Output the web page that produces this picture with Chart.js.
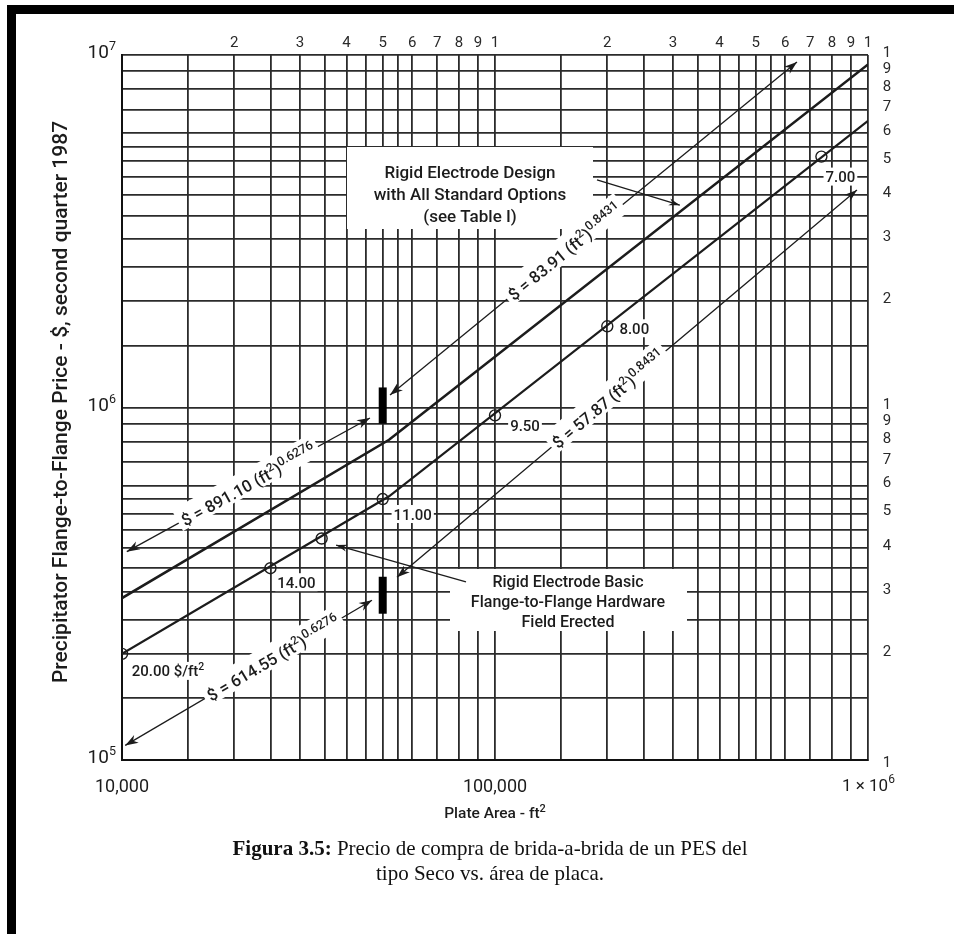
<!DOCTYPE html>
<html lang="en">
<head>
<meta charset="utf-8">
<title>Precipitator flange-to-flange price vs plate area</title>
<script src="https://cdn.jsdelivr.net/npm/chart.js@4.4.1/dist/chart.umd.min.js"></script>
<style>
  html, body { margin: 0; padding: 0; background: #fff; }
  .page { position: relative; width: 954px; height: 934px; overflow: hidden; background: #fff; }
  .frame-top { position: absolute; left: 7px; top: 5px; width: 947px; height: 9px; background: #000; }
  .frame-left { position: absolute; left: 7px; top: 5px; width: 9px; height: 929px; background: #000; }
  #chart { position: absolute; left: 0; top: 0; }
  .caption {
    position: absolute; left: 0; top: 836px; width: 980px;
    text-align: center; font-family: 'Liberation Serif', serif;
    font-size: 21px; line-height: 25px; color: #111;
  }
</style>
</head>
<body>
<div class="page">
  <canvas id="chart" width="954" height="934"></canvas>
  <div class="frame-top"></div>
  <div class="frame-left"></div>
  <div class="caption"><b>Figura 3.5:</b> Precio de compra de brida-a-brida de un PES del<br>tipo Seco vs. área de placa.</div>
</div>
<script>
// grid: the same mantissas are ruled in every decade of both axes
const gridSteps = [1, 1.5, 2, 2.5, 3, 3.5, 4, 4.5, 5, 5.5, 6, 7, 8, 9];
const areaDecades = [1e4, 1e5];
const priceDecades = [1e5, 1e6];
const areaRange = [1e4, 1e6];
const priceRange = [1e5, 1e7];
const edgeDigits = [2, 3, 4, 5, 6, 7, 8, 9];

// printed axis values
const areaTicks = [1e4, 1e5, 1e6];
const areaTickText = ['10,000', '100,000', '1 × 10'];
const priceTicks = [1e5, 1e6, 1e7];
const priceTickExp = ['5', '6', '7'];

// Rigid electrode, all standard options (ft2 -> $)
const optionsArea = [10000, 52000, 1000000];
const optionsPrice = [288000, 810000, 9400000];

// Rigid electrode, basic flange-to-flange hardware
const basicArea = [10000, 52000, 1000000];
const basicPrice = [200000, 560000, 6500000];

// marked points on the basic curve, with their unit price
const markArea = [10000, 25000, 34300, 50000, 100000, 200000, 750000];
const markPrice = [200000, 350000, 425000, 550000, 950000, 1700000, 5150000];
const markRate = ['20.00 $/ft', '14.00', '', '11.00', '9.50', '8.00', '7.00'];

// equation leader lines
const eq891Area = [10300, 46200];
const eq891Price = [390000, 934000];
const eq8391Area = [52300, 645000];
const eq8391Price = [1085000, 9550000];
const eq614Area = [10200, 46800];
const eq614Price = [110000, 284000];
const eq5787Area = [54600, 934000];
const eq5787Price = [330000, 4140000];

// heavy break bars at 50,000 ft2
const breakArea = [50000, 50000];
const breakUpperPrice = [900000, 1140000];
const breakLowerPrice = [260000, 331000];

// pointers from the two notes to the curves
const optionsPointerArea = [187700, 313000];
const optionsPointerPrice = [4420000, 3750000];
const basicPointerArea = [83600, 37500];
const basicPointerPrice = [320000, 407000];

const INK = '#1c1c1c';
const SANS = 'Roboto, "Liberation Sans", sans-serif';

const pts = (xs, ys) => xs.map((x, i) => ({ x, y: ys[i] }));

const gridValues = (decades, last) => {
  const vals = [];
  decades.forEach(d => gridSteps.forEach(s => vals.push(d * s)));
  vals.push(last);
  return vals;
};

const thinLine = (data) => ({
  data, showLine: true, borderColor: INK, borderWidth: 1.3, pointRadius: 0
});

const bar = (data) => ({
  data, showLine: true, borderColor: '#000', borderWidth: 8,
  borderCapStyle: 'butt', pointRadius: 0
});

// dataset order is used by the drawing plugin below
const datasets = [
  { data: pts(optionsArea, optionsPrice), showLine: true, borderColor: INK, borderWidth: 2.6, pointRadius: 0 },
  { data: pts(basicArea, basicPrice), showLine: true, borderColor: INK, borderWidth: 2.2, pointRadius: 0 },
  thinLine(pts(eq891Area, eq891Price)),
  thinLine(pts(eq8391Area, eq8391Price)),
  thinLine(pts(eq614Area, eq614Price)),
  thinLine(pts(eq5787Area, eq5787Price)),
  thinLine(pts(optionsPointerArea, optionsPointerPrice)),
  thinLine(pts(basicPointerArea, basicPointerPrice)),
  bar(pts(breakArea, breakUpperPrice)),
  bar(pts(breakArea, breakLowerPrice)),
  {
    data: pts(markArea, markPrice), showLine: false, pointStyle: 'circle',
    pointRadius: 5.5, borderWidth: 1.4, borderColor: INK, backgroundColor: 'rgba(0,0,0,0)'
  }
];

// equation labels: dataset index, position along the leader, coefficient, exponent
const eqLabels = [
  [2, 0.50, '891.10', '0.6276'],
  [3, 0.43, '83.91', '0.8431'],
  [4, 0.60, '614.55', '0.6276'],
  [5, 0.46, '57.87', '0.8431']
];

// label offsets (px) from each marked point
const markOffsets = [[46, 17], [26, 14], [0, 0], [30, 15], [30, 10], [27, 2], [19, 20]];

// text blocks: lines, centre x, first baseline, line step, box
const notes = [
  { lines: ['Rigid Electrode Design', 'with All Standard Options', '(see Table I)'],
    cx: 470, y: 178, step: 22, size: 17, box: [347, 147, 593, 229] },
  { lines: ['Rigid Electrode Basic', 'Flange-to-Flange Hardware', 'Field Erected'],
    cx: 568, y: 587, step: 20, size: 16, box: [450, 569, 687, 631] }
];

const pos = (chart, i, j) => {
  const el = chart.getDatasetMeta(i).data[j];
  return { x: el.x, y: el.y };
};

function arrowHead(ctx, from, to, len, half) {
  const a = Math.atan2(to.y - from.y, to.x - from.x);
  ctx.save();
  ctx.translate(to.x, to.y);
  ctx.rotate(a);
  ctx.beginPath();
  ctx.moveTo(0, 0);
  ctx.lineTo(-len, -half);
  ctx.lineTo(-len * 0.7, 0);
  ctx.lineTo(-len, half);
  ctx.closePath();
  ctx.fill();
  ctx.restore();
}

// parts: [text, size, rise]
function richWidth(ctx, parts, weight) {
  let w = 0;
  parts.forEach(p => {
    ctx.font = `${weight} ${p[1]}px ${SANS}`;
    w += ctx.measureText(p[0]).width;
  });
  return w;
}

function drawRich(ctx, parts, x, y, weight) {
  ctx.textAlign = 'left';
  ctx.textBaseline = 'alphabetic';
  let cx = x;
  parts.forEach(p => {
    ctx.font = `${weight} ${p[1]}px ${SANS}`;
    ctx.fillText(p[0], cx, y - (p[2] || 0));
    cx += ctx.measureText(p[0]).width;
  });
  return cx - x;
}

const chartDecor = {
  id: 'chartDecor',
  beforeDatasetsDraw(chart) {
    const ctx = chart.ctx;
    ctx.save();
    ctx.fillStyle = '#fff';
    notes.forEach(n => {
      const [x0, y0, x1, y1] = n.box;
      ctx.fillRect(x0, y0, x1 - x0, y1 - y0);
    });
    ctx.restore();
  },
  afterDatasetsDraw(chart) {
    const ctx = chart.ctx;
    ctx.save();
    ctx.fillStyle = INK;

    // arrowheads on both ends of each equation leader
    [2, 3, 4, 5].forEach(i => {
      const a = pos(chart, i, 0), b = pos(chart, i, 1);
      arrowHead(ctx, b, a, 13, 4.5);
      arrowHead(ctx, a, b, 13, 4.5);
    });
    // note pointers
    [6, 7].forEach(i => {
      arrowHead(ctx, pos(chart, i, 0), pos(chart, i, 1), 11, 3.5);
    });

    // equation text, set along each leader on a white strip
    eqLabels.forEach(([i, t, coef, exp]) => {
      const a = pos(chart, i, 0), b = pos(chart, i, 1);
      const cx = a.x + (b.x - a.x) * t, cy = a.y + (b.y - a.y) * t;
      const parts = [['$ = ' + coef + ' (ft', 16.5], ['2', 11.5, 7], [')', 16.5], [exp, 12.5, 7]];
      const w = richWidth(ctx, parts, 500);
      ctx.save();
      ctx.translate(cx, cy);
      ctx.rotate(Math.atan2(b.y - a.y, b.x - a.x));
      ctx.fillStyle = '#fff';
      ctx.fillRect(-w / 2 - 4, -15, w + 8, 24);
      ctx.fillStyle = INK;
      drawRich(ctx, parts, -w / 2, 6, 500);
      ctx.restore();
    });

    // unit price labels beside the marked points
    markRate.forEach((txt, j) => {
      if (!txt) return;
      const p = pos(chart, 10, j);
      const parts = j === 0 ? [[txt, 15], ['2', 10.5, 6]] : [[txt, 15]];
      const w = richWidth(ctx, parts, 500);
      const x = p.x + markOffsets[j][0] - w / 2, y = p.y + markOffsets[j][1];
      ctx.fillStyle = '#fff';
      ctx.fillRect(x - 2, y - 9, w + 4, 18);
      ctx.fillStyle = INK;
      drawRich(ctx, parts, x, y + 5.5, 500);
    });

    // note text
    notes.forEach(n => {
      ctx.font = `500 ${n.size}px ${SANS}`;
      ctx.textAlign = 'center';
      ctx.textBaseline = 'alphabetic';
      n.lines.forEach((ln, k) => ctx.fillText(ln, n.cx, n.y + k * n.step));
    });
    ctx.restore();
  },
  afterDraw(chart) {
    const ctx = chart.ctx;
    const xs = chart.scales.x, ys = chart.scales.y;
    const area = chart.chartArea;
    ctx.save();
    ctx.fillStyle = '#2a2a2a';
    ctx.textBaseline = 'middle';
    ctx.textAlign = 'center';
    ctx.font = `15px ${SANS}`;

    // digits along the top edge
    areaDecades.forEach(d => {
      edgeDigits.forEach(s => ctx.fillText(String(s), xs.getPixelForValue(d * s), area.top - 12));
      ctx.fillText('1', xs.getPixelForValue(d * 10), area.top - 12);
    });
    // digits along the right edge
    const rx = area.right + 19;
    ctx.fillText('1', rx, ys.getPixelForValue(priceRange[1]) - 2);
    priceDecades.forEach(d => {
      edgeDigits.forEach(s => ctx.fillText(String(s), rx, ys.getPixelForValue(d * s) - 2));
      ctx.fillText('1', rx, ys.getPixelForValue(d) + (d === priceDecades[0] ? 3 : -2));
    });

    // powers of ten on the left
    ctx.fillStyle = INK;
    priceTicks.forEach((v, k) => {
      const parts = [['10', 19], [priceTickExp[k], 12.5, 8]];
      const w = richWidth(ctx, parts, 400);
      drawRich(ctx, parts, area.left - 6 - w, ys.getPixelForValue(v) + 3, 400);
    });

    // area values along the bottom
    areaTicks.forEach((v, k) => {
      const x = xs.getPixelForValue(v);
      if (k < 2) {
        ctx.font = `18px ${SANS}`;
        ctx.textAlign = 'center';
        ctx.textBaseline = 'alphabetic';
        ctx.fillText(areaTickText[k], x, area.bottom + 32);
      } else {
        const parts = [[areaTickText[k], 17], ['6', 12, 8]];
        drawRich(ctx, parts, x - 26, area.bottom + 31, 400);
      }
    });

    // axis titles
    const title = [['Plate Area - ft', 15.5], ['2', 11, 6]];
    const tw = richWidth(ctx, title, 500);
    drawRich(ctx, title, xs.getPixelForValue(1e5) - tw / 2, area.bottom + 58, 500);

    ctx.translate(62, 402);
    ctx.rotate(-Math.PI / 2);
    ctx.font = `500 21px ${SANS}`;
    ctx.textAlign = 'center';
    ctx.textBaseline = 'middle';
    ctx.fillText('Precipitator Flange-to-Flange Price - $, second quarter 1987', 0, 0);
    ctx.restore();
  }
};

const gridStyle = { color: '#2b2b2b', lineWidth: 1.8, drawTicks: false };

new Chart(document.getElementById('chart'), {
  type: 'scatter',
  data: { datasets },
  options: {
    responsive: false,
    animation: false,
    devicePixelRatio: 1,
    layout: { padding: { left: 122, top: 55, right: 86, bottom: 174 } },
    plugins: { legend: { display: false }, tooltip: { enabled: false } },
    scales: {
      x: {
        type: 'logarithmic', min: areaRange[0], max: areaRange[1],
        grid: gridStyle,
        border: { color: '#111', width: 2 },
        ticks: { display: false },
        afterBuildTicks: s => { s.ticks = gridValues(areaDecades, areaRange[1]).map(value => ({ value })); }
      },
      y: {
        type: 'logarithmic', min: priceRange[0], max: priceRange[1],
        grid: gridStyle,
        border: { color: '#111', width: 2 },
        ticks: { display: false },
        afterBuildTicks: s => { s.ticks = gridValues(priceDecades, priceRange[1]).map(value => ({ value })); }
      }
    }
  },
  plugins: [chartDecor]
});
</script>
</body>
</html>
